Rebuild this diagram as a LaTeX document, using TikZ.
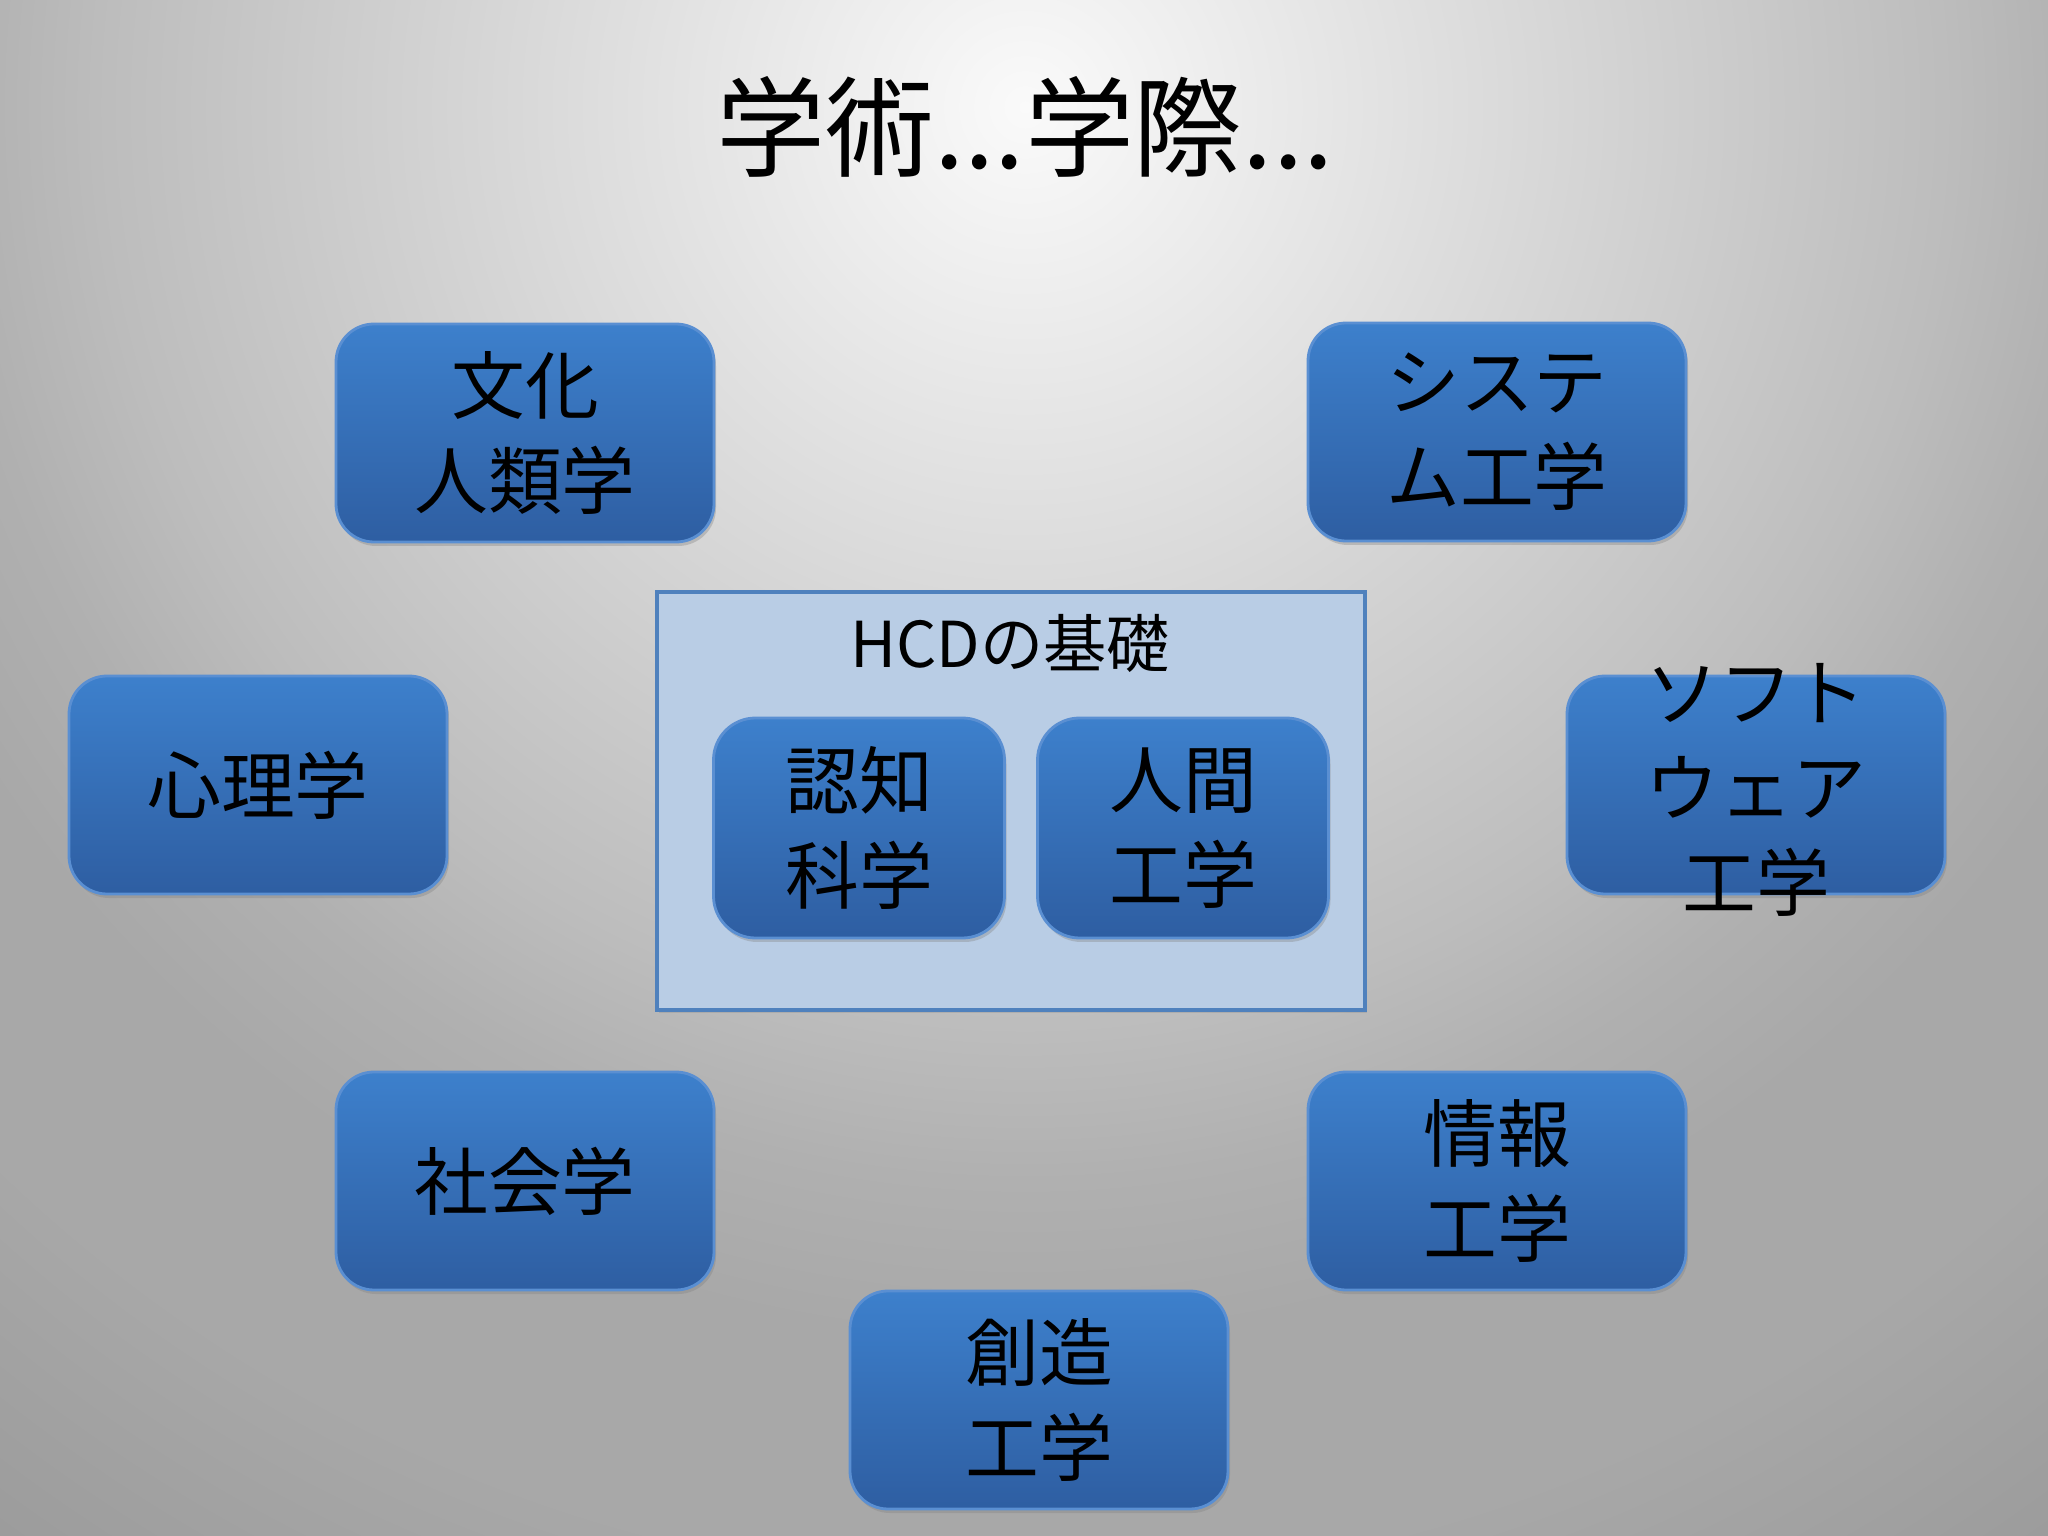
\documentclass[tikz,border=0pt]{standalone}
\usepackage{fontspec}
\setmainfont{Noto Sans CJK JP}
\usetikzlibrary{shadows}

\definecolor{fieldtop}{HTML}{3D80CC}
\definecolor{fieldbot}{HTML}{2E5EA2}
\definecolor{fieldline}{HTML}{5A8FD2}
\definecolor{hcdfill}{HTML}{B9CDE5}
\definecolor{hcdline}{HTML}{4F81BD}

\pgfdeclareradialshading{slidebg}{\pgfpoint{0bp}{0bp}}{%
  color(0bp)=(white!98!black); color(3bp)=(white!92!black); color(5bp)=(white!88!black);
  color(9bp)=(white!80!black); color(12bp)=(white!74!black); color(14bp)=(white!69!black);
  color(16bp)=(white!66!black); color(19bp)=(white!66!black); color(23bp)=(white!61!black);
  color(25bp)=(white!60!black); color(50bp)=(white!60!black)}

\begin{document}
\begin{tikzpicture}[
  field/.style={draw=fieldline, line width=0.8pt, rounded corners=0.38cm,
    top color=fieldtop, bottom color=fieldbot, minimum width=3.78cm, minimum height=2.18cm,
    align=center, font=\fontsize{21}{27}\selectfont,
    drop shadow={opacity=0.35, shadow xshift=0.02cm, shadow yshift=-0.04cm}},
  core/.style={field, minimum width=2.91cm, minimum height=2.20cm, rounded corners=0.42cm},
  fieldtext/.style={align=center, font=\fontsize{21}{27}\selectfont}]

% Hintergrund
\useasboundingbox (0,0) rectangle (20.48,-15.36);
\begin{scope}
\clip (0,0) rectangle (20.48,-15.36);
\shade[shading=slidebg] (-8.95,18.13) rectangle (29.45,-20.27);
\end{scope}

% Titel
\node[font=\fontsize{31}{36}\selectfont] (title) at (10.25,-1.27) {学術...学際...};

% HCD
\node[draw=hcdline, fill=hcdfill, line width=1pt, minimum width=7.08cm, minimum height=4.18cm,
  drop shadow={opacity=0.25, shadow xshift=0.02cm, shadow yshift=-0.03cm}] (hcd) at (10.11,-8.01) {};
\node[font=\fontsize{18}{22}\selectfont] (hcdtitle) at (10.10,-6.43) {HCDの基礎};
\node[core] (cog) at (8.59,-8.28) {認知\\科学};
\node[core] (human) at (11.83,-8.28) {人間\\工学};

% Fachgebiete
\node[field] (culture) at (5.25,-4.33) {文化\\人類学};
\node[field] (system) at (14.97,-4.32) {システ\\ム工学};
\node[field] (psych) at (2.58,-7.85) {心理学};
\node[field] (soft) at (17.56,-7.85) {};
\node[fieldtext] (softtext) at (17.56,-7.90) {ソフト\\ウェア\\工学};
\node[field] (socio) at (5.25,-11.81) {社会学};
\node[field] (info) at (14.97,-11.81) {情報\\工学};
\node[field] (create) at (10.39,-14.00) {創造\\工学};

\end{tikzpicture}
\end{document}
